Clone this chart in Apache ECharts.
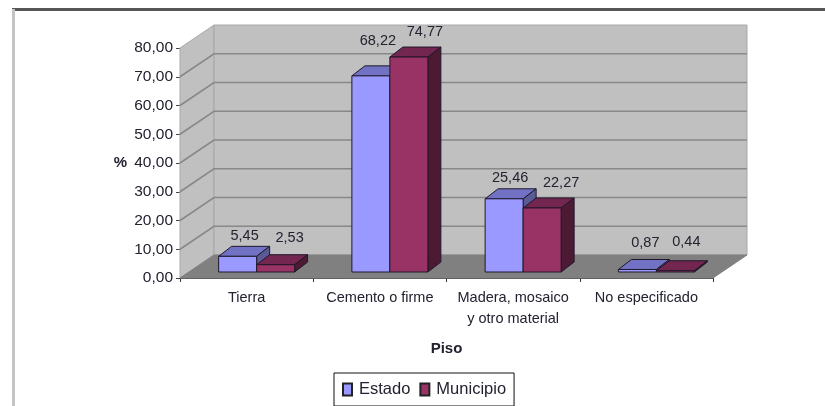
<!DOCTYPE html>
<html>
<head>
<meta charset="utf-8">
<style>
  html, body { margin: 0; padding: 0; background: #fff; }
  #chart { width: 825px; height: 406px; filter: blur(0.7px); }
</style>
<script src="https://cdn.jsdelivr.net/npm/echarts@6/dist/echarts.min.js"></script>
</head>
<body>
<div id="chart"></div>
<script>
  const categories = ['Tierra', 'Cemento o firme', 'Madera, mosaico\ny otro material', 'No especificado']
  const estado = [5.45, 68.22, 25.46, 0.87]
  const municipio = [2.53, 74.77, 22.27, 0.44]
  const yTicks = [0, 10, 20, 30, 40, 50, 60, 70, 80]

  // box depth of the fake 3d look, in pixels
  const wallDx = 34
  const wallDy = -23
  const barDx = 13
  const barDy = -10
  const barFrontDx = 10
  const barFrontDy = -6
  const barShare = 38 / 133.25

  // hand placed labels, as in the original sheet
  const estadoLabelShift = [[7, -20], [7, -35], [6, -21], [8, -26]]
  const municipioLabelShift = [[14, -27], [16, -25], [19, -25], [11, -29]]

  const font = 'Liberation Sans'
  const fmt = v => v.toFixed(2).replace('.', ',')

  function poly(points, fill, stroke) {
    return {
      type: 'polygon',
      shape: { points },
      style: { fill, stroke: stroke || null, lineWidth: 1 }
    }
  }

  function renderWalls(params, api) {
    const cs = params.coordSys
    const left = cs.x
    const right = cs.x + cs.width
    const top = cs.y
    const bottom = cs.y + cs.height
    const children = [
      poly([[left, top], [left + wallDx, top + wallDy], [left + wallDx, bottom + wallDy], [left, bottom]], '#c0c0c0', '#a8a8a8'),
      poly([[left + wallDx, top + wallDy], [right + wallDx, top + wallDy], [right + wallDx, bottom + wallDy], [left + wallDx, bottom + wallDy]], '#c0c0c0', '#a8a8a8'),
      poly([[left, bottom], [left + wallDx, bottom + wallDy], [right + wallDx, bottom + wallDy], [right, bottom]], '#808080', '#808080')
    ]
    yTicks.forEach(t => {
      const y = api.coord([0, t])[1]
      if (t === 0 || t === 80) return
      children.push({
        type: 'polyline',
        shape: { points: [[left, y], [left + wallDx, y + wallDy], [right + wallDx, y + wallDy]] },
        style: { fill: null, stroke: '#888888', lineWidth: 1.6 }
      })
    })
    return { type: 'group', children }
  }

  function barRenderer(values, side, front, topFill, sideFill, shifts) {
    return function (params, api) {
      const i = api.value(0)
      const base = api.coord([i, 0])
      const tip = api.coord([i, api.value(1)])
      const w = api.size([1, 0])[0] * barShare
      const x0 = base[0] + barFrontDx + (side < 0 ? -w : 0)
      const x1 = x0 + w
      const y0 = base[1] + barFrontDy
      const y1 = tip[1] + barFrontDy
      const line = '#20182a'
      const shift = shifts[i]
      return {
        type: 'group',
        children: [
          poly([[x0, y1], [x0 + barDx, y1 + barDy], [x1 + barDx, y1 + barDy], [x1, y1]], topFill, line),
          poly([[x1, y1], [x1 + barDx, y1 + barDy], [x1 + barDx, y0 + barDy], [x1, y0]], sideFill, line),
          poly([[x0, y1], [x1, y1], [x1, y0], [x0, y0]], front, line),
          {
            type: 'text',
            style: {
              x: (x0 + x1) / 2 + shift[0],
              y: y1 + shift[1],
              text: fmt(values[i]),
              align: 'center',
              verticalAlign: 'middle',
              fill: '#222230',
              font: '14.5px "' + font + '"'
            }
          }
        ]
      }
    }
  }

  const chart = echarts.init(document.getElementById('chart'))
  chart.setOption({
    animation: false,
    textStyle: { fontFamily: font },
    grid: { left: 180, top: 48, width: 533, height: 230 },
    graphic: [
      { type: 'rect', shape: { x: 12, y: 8, width: 813, height: 3 }, style: { fill: '#565656' }, silent: true },
      { type: 'rect', shape: { x: 12, y: 9, width: 3, height: 397 }, style: { fill: '#c4c4c4' }, silent: true }
    ],
    legend: {
      left: 334,
      top: 373,
      data: ['Estado', 'Municipio'],
      backgroundColor: '#fff',
      borderColor: '#111',
      borderWidth: 1,
      borderRadius: 0,
      padding: [8, 8, 8, 8],
      itemWidth: 9,
      itemHeight: 12,
      itemGap: 9,
      icon: 'rect',
      textStyle: { fontFamily: font, fontSize: 16.5, color: '#222230', padding: [0, 0, 0, 2] }
    },
    xAxis: {
      type: 'category',
      data: categories,
      name: 'Piso',
      nameLocation: 'middle',
      nameGap: 63,
      nameTextStyle: { fontFamily: font, fontSize: 15, fontWeight: 'bold', color: '#222230' },
      axisLine: { show: true, lineStyle: { color: '#444', width: 1 } },
      axisTick: { show: true, alignWithLabel: false, length: 4, lineStyle: { color: '#333' } },
      axisLabel: { fontFamily: font, fontSize: 14.5, lineHeight: 21, color: '#222230', margin: 9, interval: 0, hideOverlap: false }
    },
    yAxis: {
      type: 'value',
      min: 0,
      max: 80,
      interval: 10,
      name: '%',
      nameLocation: 'middle',
      nameRotate: 0,
      nameGap: 53,
      nameTextStyle: { fontFamily: font, fontSize: 15, fontWeight: 'bold', color: '#222230' },
      splitLine: { show: false },
      axisLine: { show: true, lineStyle: { color: '#777', width: 1 } },
      axisTick: { show: true, length: 4, lineStyle: { color: '#444' } },
      axisLabel: { fontFamily: font, fontSize: 15.5, color: '#222230', margin: 7, formatter: fmt }
    },
    series: [
      {
        type: 'custom',
        name: 'walls',
        silent: true,
        z: 1,
        clip: false,
        data: [[0, 0]],
        renderItem: renderWalls
      },
      {
        type: 'custom',
        name: 'Estado',
        z: 2,
        clip: false,
        itemStyle: { color: '#9999ff', borderColor: '#222', borderWidth: 1 },
        data: estado.map((v, i) => [i, v]),
        renderItem: barRenderer(estado, -1, '#9999ff', '#7272c4', '#5a5a96', estadoLabelShift)
      },
      {
        type: 'custom',
        name: 'Municipio',
        z: 3,
        clip: false,
        itemStyle: { color: '#993366', borderColor: '#222', borderWidth: 1 },
        data: municipio.map((v, i) => [i, v]),
        renderItem: barRenderer(municipio, 1, '#993366', '#732650', '#4d1a33', municipioLabelShift)
      }
    ]
  })
</script>
</body>
</html>
